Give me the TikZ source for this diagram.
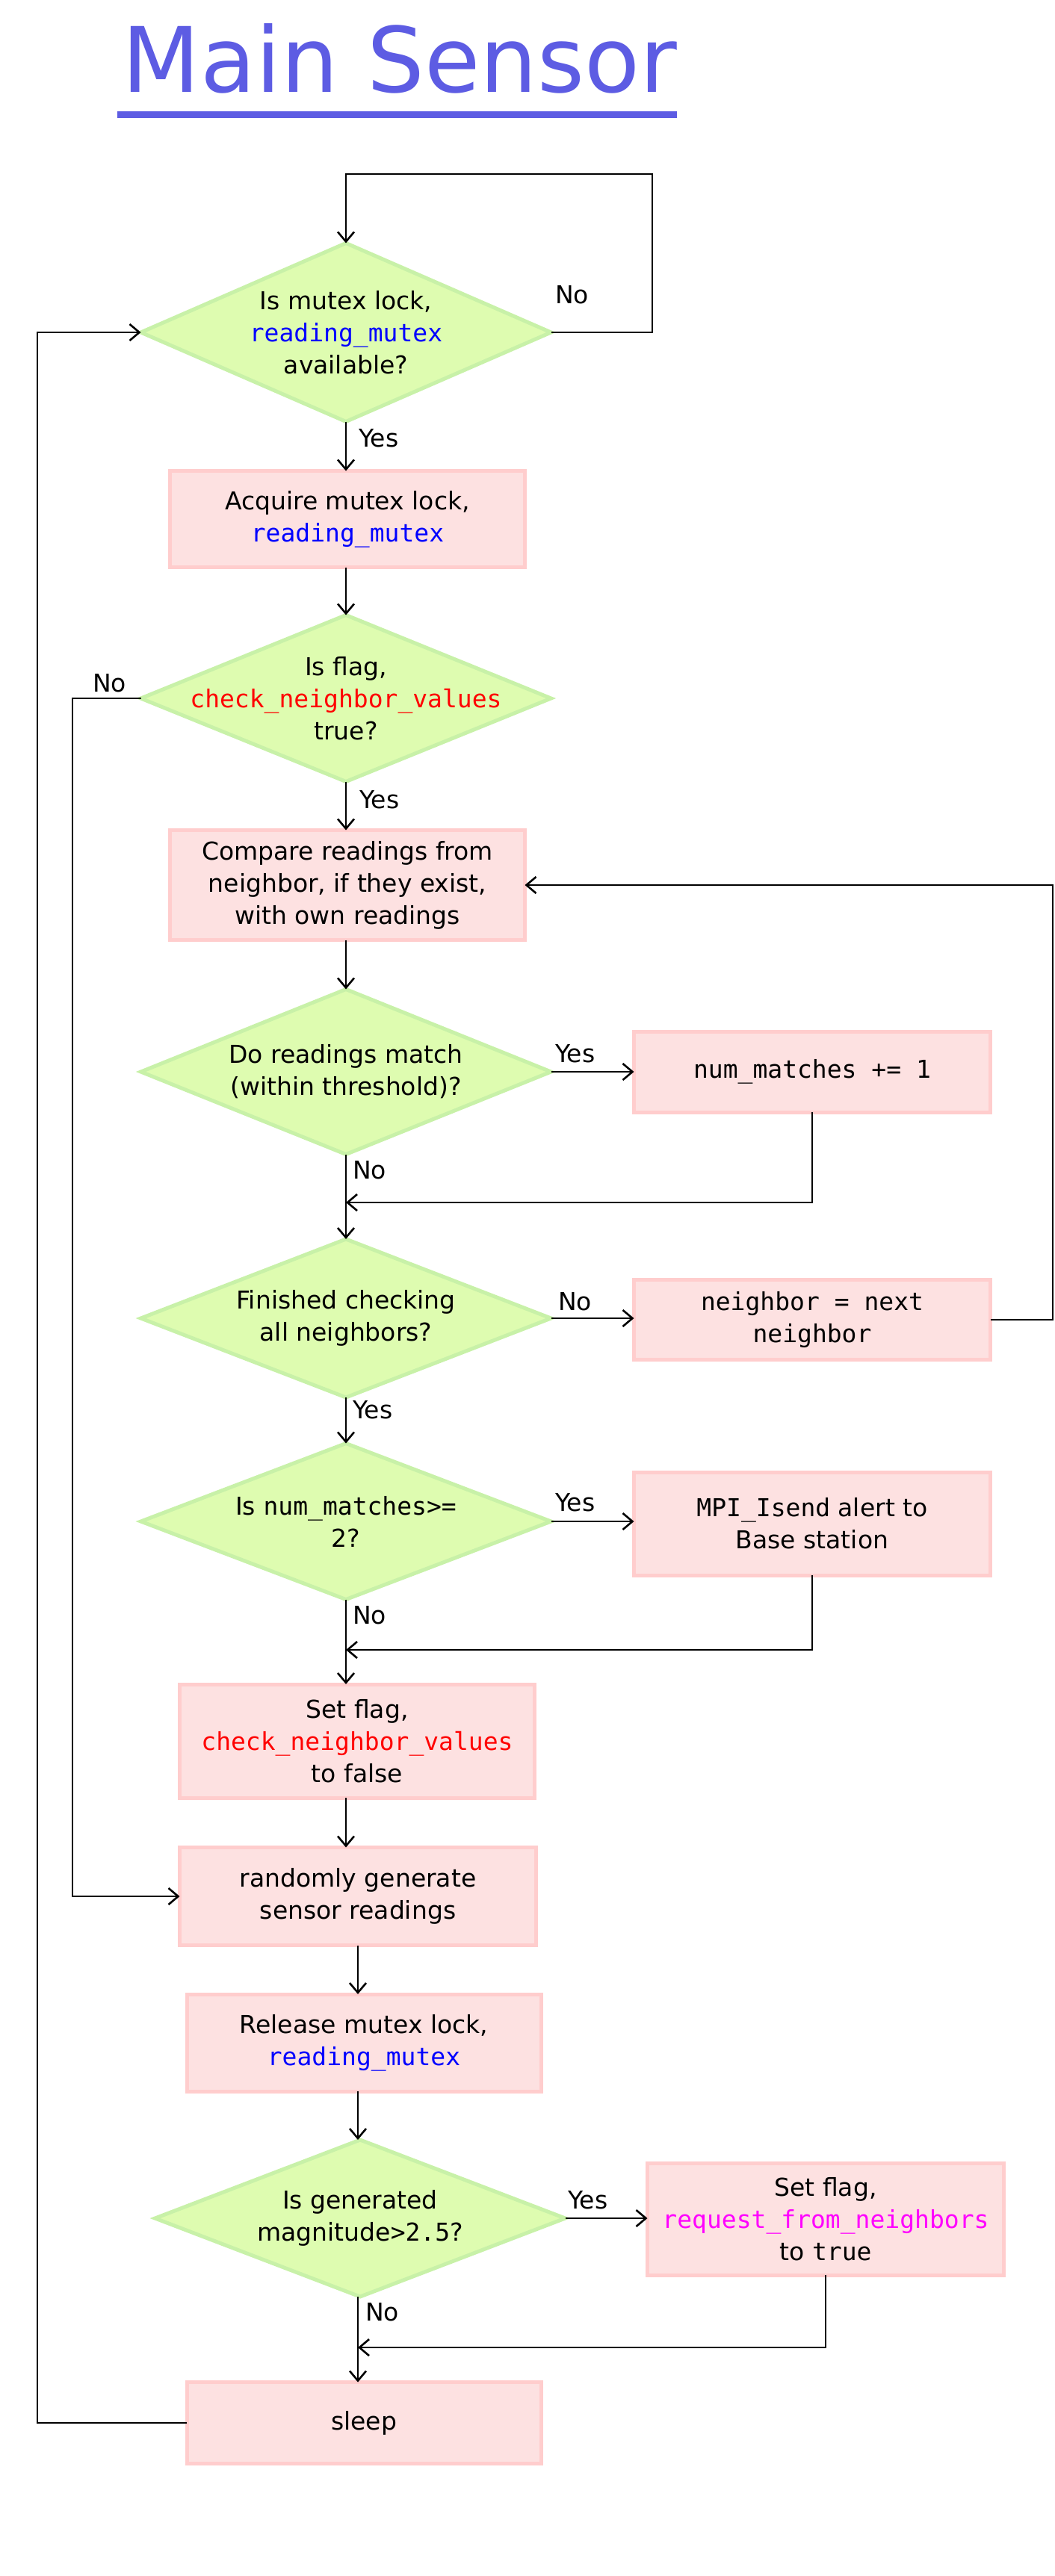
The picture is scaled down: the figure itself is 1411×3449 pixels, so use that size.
\documentclass[tikz,border=0pt]{standalone}
\usepackage{fontspec}
\setmainfont{DejaVu Sans}
\setmonofont{DejaVu Sans Mono}
\usetikzlibrary{shapes.geometric,arrows.meta,calc}
\definecolor{titleblue}{HTML}{5D5CE3}
\definecolor{boxfill}{HTML}{FDE1E1}
\definecolor{boxline}{HTML}{FFCDCD}
\definecolor{diafill}{HTML}{DEFCB0}
\definecolor{dialine}{HTML}{C8F1A8}
\definecolor{codeblue}{HTML}{0000FF}
\definecolor{codered}{HTML}{FF0000}
\definecolor{codemag}{HTML}{FF00FF}
\newcommand{\codetxt}[2][black]{{\ttfamily\color{#1}#2}}
\begin{document}
\begin{tikzpicture}[x=1pt,y=-1pt,
  every node/.style={font=\fontsize{33}{43}\selectfont, inner sep=0pt, outer sep=0pt},
  box/.style={rectangle, draw=boxline, fill=boxfill, line width=5pt, align=center},
  dia/.style={diamond, draw=dialine, fill=diafill, line width=5pt, minimum width=549pt},
  diatext/.style={align=center},
  conn/.style={line width=2.6pt, -{Straight Barb[length=13pt,width=22pt]}},
  lbl/.style={anchor=base west}]
\useasboundingbox (0,0) rectangle (1411,3449);

% title
\node[anchor=base, text=titleblue, font=\fontsize{121}{140}\selectfont] (title) at (535,124) {Main Sensor};
\fill[titleblue] (157,149) rectangle (906,158);

% diamonds
\node[dia, minimum height=239pt] (d1) at (463,445) {};
\node[diatext] (d1t) at (d1) {Is mutex lock,\\\codetxt[codeblue]{reading\_mutex}\\available?};
\node[dia, minimum height=223pt] (d2) at (463,935) {};
\node[diatext] (d2t) at (d2) {Is flag,\\\codetxt[codered]{check\_neighbor\_values}\\true?};
\node[dia, minimum height=221pt] (d3) at (463,1435) {};
\node[diatext] (d3t) at (d3) {Do readings match\\(within threshold)?};
\node[dia, minimum height=212pt] (d4) at (463,1765) {};
\node[diatext] (d4t) at (d4) {Finished checking\\all neighbors?};
\node[dia, minimum height=209pt] (d5) at (463,2037) {};
\node[diatext] (d5t) at (d5) {Is \codetxt{num\_matches>=}\\2?};
\node[dia, minimum height=210pt] (d6) at (482,2970) {};
\node[diatext] (d6t) at (d6) {Is generated\\magnitude\codetxt{>2.5}?};

% boxes
\node[box, minimum width=475pt, minimum height=129pt] (b1) at (465,695) {Acquire mutex lock,\\\codetxt[codeblue]{reading\_mutex}};
\node[box, minimum width=475pt, minimum height=147pt] (b2) at (465,1185) {Compare readings from\\neighbor, if they exist,\\with own readings};
\node[box, minimum width=477pt, minimum height=108pt] (b3) at (1087,1435) {\codetxt{num\_matches += 1}};
\node[box, minimum width=477pt, minimum height=107pt] (b4) at (1087,1767) {\codetxt{neighbor = next}\\\codetxt{neighbor}};
\node[box, minimum width=477pt, minimum height=138pt] (b5) at (1087,2040) {\codetxt{MPI\_Isend} alert to\\Base station};
\node[box, minimum width=475pt, minimum height=152pt] (b6) at (478,2331) {Set flag,\\\codetxt[codered]{check\_neighbor\_values}\\to false};
\node[box, minimum width=477pt, minimum height=131pt] (b7) at (479,2539) {randomly generate\\sensor readings};
\node[box, minimum width=474pt, minimum height=130pt] (b8) at (487,2735) {Release mutex lock,\\\codetxt[codeblue]{reading\_mutex}};
\node[box, minimum width=477pt, minimum height=150pt] (b9) at (1105,2971) {Set flag,\\\codetxt[codemag]{request\_from\_neighbors}\\to \codetxt{true}};
\node[box, minimum width=474pt, minimum height=109pt] (b10) at (487,3244) {sleep};

% helper coordinates
\coordinate (c1) at (873,233);
\coordinate (c2) at (97,1500);
\coordinate (c3) at (1409,1500);
\coordinate (c4) at (50,2000);
\coordinate (j1) at (463,1610);
\coordinate (j2) at (463,2209);
\coordinate (j3) at (479,3143);
\coordinate (sB) at (479,0);

% connectors
\draw[conn] (d1.east) -| (c1) -| (d1.north);
\draw[conn] (d1.south) -- (d1.south |- b1.north);
\draw[conn] (d1.south |- b1.south) -- (d2.north);
\draw[conn] (d2.west) -| (c2) |- (b7.west);
\draw[conn] (d2.south) -- (d2.south |- b2.north);
\draw[conn] (d2.south |- b2.south) -- (d3.north);
\draw[conn] (d3.east) -- (d3.east -| b3.west);
\draw[conn] (b3.south) |- (j1);
\draw[conn] (d3.south) -- (d4.north);
\draw[conn] (d4.east) -- (d4.east -| b4.west);
\draw[conn] (b4.east) -| (c3) |- (b2.east);
\draw[conn] (d4.south) -- (d5.north);
\draw[conn] (d5.east) -- (d5.east -| b5.west);
\draw[conn] (b5.south) |- (j2);
\draw[conn] (d5.south) -- (d5.south |- b6.north);
\draw[conn] (d5.south |- b6.south) -- (d5.south |- b7.north);
\draw[conn] (b7.south -| sB) -- (b8.north -| sB);
\draw[conn] (b8.south -| sB) -- (d6.north -| sB);
\draw[conn] (d6.east) -- (d6.east -| b9.west);
\draw[conn] (b9.south) |- (j3);
\draw[conn] (d6.south -| sB) -- (b10.north -| sB);
\draw[conn] (b10.west) -| (c4) |- (d1.west);

% labels
\node[lbl] (l1) at (743,406) {No};
\node[lbl] (l2) at (480,598) {Yes};
\node[lbl] (l3) at (124,926) {No};
\node[lbl] (l4) at (481,1082) {Yes};
\node[lbl] (l5) at (743,1422) {Yes};
\node[lbl] (l6) at (472,1578) {No};
\node[lbl] (l7) at (747,1754) {No};
\node[lbl] (l8) at (472,1899) {Yes};
\node[lbl] (l9) at (743,2023) {Yes};
\node[lbl] (l10) at (472,2174) {No};
\node[lbl] (l11) at (760,2957) {Yes};
\node[lbl] (l12) at (489,3107) {No};
\end{tikzpicture}
\end{document}
